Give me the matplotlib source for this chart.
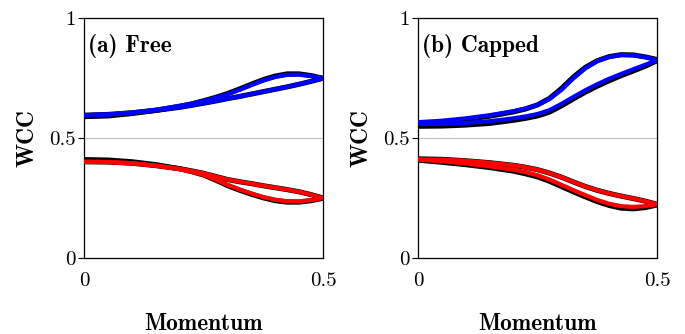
import matplotlib
matplotlib.use("Agg")
import matplotlib.pyplot as plt

# ---------------- data ----------------
momentum = [0, 0.05, 0.1, 0.15, 0.2, 0.225, 0.25, 0.275, 0.3, 0.325, 0.35,
            0.375, 0.4, 0.425, 0.45, 0.475, 0.5]

# Panel (a) Free
free_black_up1 = [0.589, 0.592, 0.602, 0.615, 0.632, 0.642, 0.655, 0.669, 0.685, 0.704,
                  0.724, 0.743, 0.758, 0.767, 0.767, 0.760, 0.749]
free_black_up2 = [0.595, 0.598, 0.605, 0.615, 0.628, 0.636, 0.645, 0.654, 0.664, 0.673,
                  0.683, 0.693, 0.703, 0.713, 0.724, 0.736, 0.749]
free_blue_up1 = [0.595, 0.598, 0.606, 0.618, 0.634, 0.643, 0.654, 0.667, 0.682, 0.700,
                 0.720, 0.739, 0.754, 0.763, 0.764, 0.758, 0.749]
free_blue_up2 = [0.595, 0.598, 0.605, 0.615, 0.628, 0.636, 0.645, 0.654, 0.664, 0.673,
                 0.683, 0.693, 0.703, 0.713, 0.724, 0.736, 0.749]
free_black_lo1 = [0.410, 0.408, 0.401, 0.389, 0.372, 0.360, 0.346, 0.325, 0.302, 0.283,
                  0.266, 0.251, 0.239, 0.233, 0.233, 0.239, 0.249]
free_black_lo2 = [0.401, 0.400, 0.395, 0.385, 0.372, 0.363, 0.353, 0.340, 0.327, 0.318,
                  0.310, 0.301, 0.293, 0.285, 0.276, 0.264, 0.250]
free_red_lo1 = [0.401, 0.400, 0.395, 0.385, 0.370, 0.359, 0.346, 0.327, 0.305, 0.286,
                0.269, 0.254, 0.243, 0.237, 0.236, 0.241, 0.250]
free_red_lo2 = [0.401, 0.400, 0.395, 0.385, 0.372, 0.363, 0.353, 0.340, 0.327, 0.318,
                0.310, 0.301, 0.293, 0.285, 0.276, 0.264, 0.250]

# Panel (b) Capped
cap_black_up1 = [0.560, 0.566, 0.577, 0.591, 0.609, 0.621, 0.638, 0.665, 0.706, 0.754,
                 0.794, 0.822, 0.839, 0.847, 0.846, 0.838, 0.827]
cap_black_up2 = [0.549, 0.550, 0.554, 0.561, 0.574, 0.582, 0.592, 0.608, 0.634, 0.663,
                 0.691, 0.716, 0.739, 0.760, 0.779, 0.799, 0.822]
cap_blue_up1 = [0.566, 0.572, 0.582, 0.595, 0.612, 0.623, 0.638, 0.662, 0.700, 0.748,
                0.790, 0.820, 0.838, 0.846, 0.845, 0.837, 0.826]
cap_blue_up2 = [0.558, 0.559, 0.563, 0.570, 0.582, 0.590, 0.600, 0.616, 0.642, 0.671,
                0.699, 0.724, 0.747, 0.767, 0.786, 0.805, 0.824]
cap_black_lo1 = [0.408, 0.399, 0.389, 0.377, 0.362, 0.351, 0.338, 0.320, 0.298, 0.276,
                 0.255, 0.235, 0.219, 0.208, 0.205, 0.210, 0.221]
cap_black_lo2 = [0.413, 0.411, 0.405, 0.397, 0.386, 0.378, 0.368, 0.354, 0.337, 0.317,
                 0.298, 0.282, 0.269, 0.258, 0.248, 0.237, 0.224]
cap_red_lo1 = [0.410, 0.403, 0.394, 0.382, 0.368, 0.358, 0.345, 0.327, 0.305, 0.283,
               0.262, 0.242, 0.226, 0.216, 0.213, 0.216, 0.224]
cap_red_lo2 = [0.411, 0.410, 0.405, 0.397, 0.386, 0.378, 0.368, 0.354, 0.337, 0.317,
               0.298, 0.282, 0.269, 0.258, 0.248, 0.237, 0.224]

panel_titles = ["(a) Free", "(b) Capped"]
x_ticks = [0, 0.5]
x_ticklabels = ["0", "0.5"]
y_ticks = [0, 0.5, 1]
y_ticklabels = ["0", "0.5", "1"]
x_label = "Momentum"
y_label = "WCC"

panels = [
    dict(black=[free_black_up1, free_black_up2, free_black_lo1, free_black_lo2],
         blue=[free_blue_up1, free_blue_up2], red=[free_red_lo1, free_red_lo2]),
    dict(black=[cap_black_up1, cap_black_up2, cap_black_lo1, cap_black_lo2],
         blue=[cap_blue_up1, cap_blue_up2], red=[cap_red_lo1, cap_red_lo2]),
]

# ---------------- figure ----------------
fig = plt.figure(figsize=(6.85, 3.34), dpi=100)
W, H = 685, 334
lefts = [84, 418]
ax_w = 239
top, bottom = 18, 258
FS = 15
FSB = 16.8

for i, (left, p) in enumerate(zip(lefts, panels)):
    ax = fig.add_axes([left / W, 1 - bottom / H, ax_w / W, (bottom - top) / H])
    ax.axhline(0.5, color="#c4c4c4", lw=0.8, zorder=1)
    for yv in p["black"]:
        ax.plot(momentum, yv, color="black", lw=3.7, solid_capstyle="round",
                solid_joinstyle="round", zorder=2)
    for yv in p["blue"]:
        ax.plot(momentum, yv, color="#0000ff", lw=3.0, solid_capstyle="round",
                solid_joinstyle="round", zorder=3)
    for yv in p["red"]:
        ax.plot(momentum, yv, color="#ff0000", lw=3.0, solid_capstyle="round",
                solid_joinstyle="round", zorder=3)
    ax.set_xlim(0, 0.5)
    ax.set_ylim(0, 1)
    ax.set_xticks(x_ticks)
    ax.set_xticklabels(x_ticklabels, fontfamily="cmr10", fontsize=FS)
    ax.set_yticks(y_ticks)
    ax.set_yticklabels(y_ticklabels, fontfamily="cmr10", fontsize=FS)
    ax.tick_params(axis="x", length=0, pad=10)
    ax.tick_params(axis="y", direction="out", length=4, width=0.8, pad=2)
    for s in ax.spines.values():
        s.set_linewidth(0.9)
    ax.set_xlabel(x_label, fontfamily="cmb10", fontsize=FSB)
    ax.xaxis.label.set_va("center")
    ax.xaxis.set_label_coords(0.5, -0.275)
    ax.set_ylabel(y_label, fontfamily="cmb10", fontsize=FSB)
    ax.yaxis.label.set_va("center")
    ax.yaxis.set_label_coords(-0.235, 0.5)
    ax.text(0.017, 0.885, panel_titles[i], transform=ax.transAxes,
            fontfamily="cmb10", fontsize=FSB, ha="left", va="center", zorder=5)

fig.savefig("out.png", dpi=100)
